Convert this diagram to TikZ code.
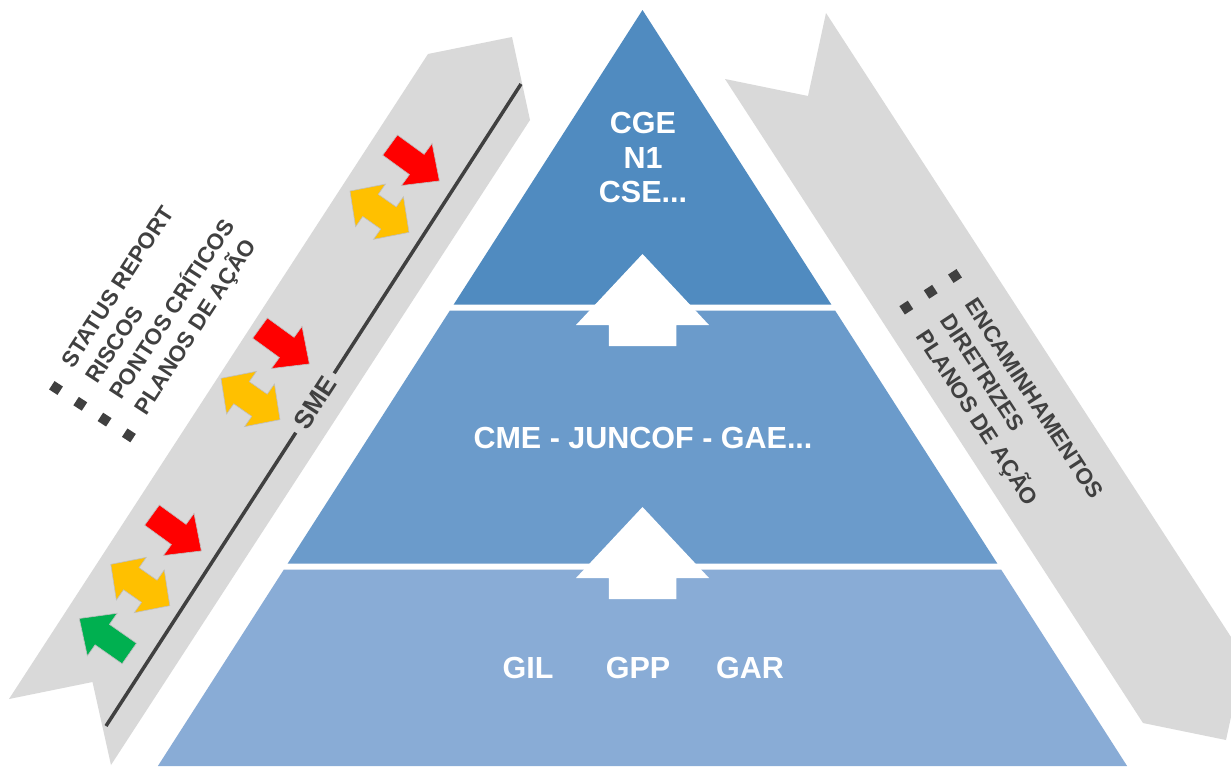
\documentclass[tikz,border=0pt]{standalone}
\usepackage{fontspec}
\setmainfont{Liberation Sans}
\definecolor{bandgray}{HTML}{D9D9D9}
\definecolor{tierA}{HTML}{508BC0}
\definecolor{tierB}{HTML}{6B9BCB}
\definecolor{tierC}{HTML}{89ACD6}
\definecolor{ink}{HTML}{404040}
\definecolor{ared}{HTML}{FF0000}
\definecolor{aorange}{HTML}{FFC000}
\definecolor{agreen}{HTML}{00B050}
\tikzset{
  band/.style={fill=bandgray, draw=none},
  uparrowshape/.style={fill=white, draw=none},
  tiertext/.style={text=white, font=\fontsize{30.5}{36}\selectfont\bfseries, inner sep=0pt, anchor=base},
  listtext/.style={text=ink, font=\fontsize{22.5}{27}\selectfont\bfseries, inner sep=0pt, anchor=base west},
  bulletsq/.style={fill=ink, minimum size=10pt, inner sep=0pt, draw=none},
  smelabel/.style={text=ink, font=\fontsize{26}{30}\selectfont\bfseries, inner xsep=7pt, inner ysep=2pt, rotate=57},
  smeline/.style={draw=ink, line width=3.5pt},
  blockarrow/.pic={\path[pic actions] (-30.5,-12.5) -- (2.5,-12.5) -- (2.5,-26) -- (30.5,0) -- (2.5,26) -- (2.5,12.5) -- (-30.5,12.5) -- cycle;},
  doublearrow/.pic={\path[pic actions] (-36,0) -- (-11,-26) -- (-11,-13.5) -- (11,-13.5) -- (11,-26) -- (36,0) -- (11,26) -- (11,13.5) -- (-11,13.5) -- (-11,26) -- cycle;},
  redfill/.style={fill=ared, draw=black!25, line width=0.6pt},
  orangefill/.style={fill=aorange, draw=black!25, line width=0.6pt},
  greenfill/.style={fill=agreen, draw=black!25, line width=0.6pt},
}
\begin{document}
\begin{tikzpicture}[x=1pt,y=-1pt]
\useasboundingbox (0,0) rectangle (1231,766);
\clip (0,0) rectangle (1231,766);
\fill[white] (0,0) rectangle (1231,766);

% side bands (chevrons)
\path[band] (9,699) -- (92.5,682) -- (111,765) -- (530,120) -- (512,37) -- (428,54) -- cycle;
\path[band] (725,79) -- (808,96) -- (826,13) -- (1244,657) -- (1226,740) -- (1143,723) -- cycle;

% pyramid tiers
\fill[tierA] (642.5,10) -- (831.3,304.5) -- (453.7,304.5) -- cycle;
\fill[tierB] (449.9,310.5) -- (835.1,310.5) -- (997.3,563.5) -- (287.7,563.5) -- cycle;
\fill[tierC] (283.9,569.5) -- (1001.1,569.5) -- (1127.1,766) -- (157.9,766) -- cycle;

% white up arrows
\path[uparrowshape] (642.5,254) -- (709,325) -- (676.25,325) -- (676.25,346) -- (608.75,346) -- (608.75,325) -- (576,325) -- cycle;
\path[uparrowshape] (642.5,507) -- (709,578) -- (676.25,578) -- (676.25,599) -- (608.75,599) -- (608.75,578) -- (576,578) -- cycle;

% tier texts
\node[tiertext] (cge) at (643,133) {CGE};
\node[tiertext] (n1) at (643,168) {N1};
\node[tiertext] (cse) at (643,202) {CSE...};
\node[tiertext] (cme) at (643,448) {CME - JUNCOF - GAE...};
\node[tiertext] (gil) at (528,678) {GIL};
\node[tiertext] (gpp) at (638,678) {GPP};
\node[tiertext] (gar) at (750,678) {GAR};

% SME line
\coordinate (lineTop) at (521,84);
\coordinate (lineBot) at (106,726);
\node[smelabel] (sme) at (315,403) {SME};
\draw[smeline] (lineBot) -- (sme);
\draw[smeline] (sme) -- (lineTop);

% coloured arrows, top group
\pic[redfill, rotate=-36] (redA) at (414.75,163) {blockarrow};
\pic[orangefill, rotate=-35] (orA) at (379.5,211.7) {doublearrow};
% middle group
\pic[redfill, rotate=-36] (redB) at (284.7,346) {blockarrow};
\pic[orangefill, rotate=-35] (orB) at (250.5,399) {doublearrow};
% bottom group
\pic[redfill, rotate=-36] (redC) at (176.7,533) {blockarrow};
\pic[orangefill, rotate=-35] (orC) at (140.3,585) {doublearrow};
\pic[greenfill, rotate=145] (grC) at (104.3,636) {blockarrow};

% left list
\node[bulletsq, rotate=57] (lb1) at (56,388) {};
\node[bulletsq, rotate=57] (lb2) at (80.3,403.8) {};
\node[bulletsq, rotate=57] (lb3) at (104.6,419.6) {};
\node[bulletsq, rotate=57] (lb4) at (128.9,435.4) {};
\node[listtext, rotate=57] (lt1) at (73,369.2) {STATUS REPORT};
\node[listtext, rotate=57] (lt2) at (97.3,385) {RISCOS};
\node[listtext, rotate=57] (lt3) at (121.6,400.8) {PONTOS CRÍTICOS};
\node[listtext, rotate=57] (lt4) at (145.9,416.6) {PLANOS DE AÇÃO};

% right list
\node[bulletsq, rotate=-57] (rb1) at (955,276) {};
\node[bulletsq, rotate=-57] (rb2) at (930.7,291.8) {};
\node[bulletsq, rotate=-57] (rb3) at (906.3,307.6) {};
\node[listtext, rotate=-57] (rt1) at (964.1,304.7) {ENCAMINHAMENTOS};
\node[listtext, rotate=-57] (rt2) at (939.8,320.5) {DIRETRIZES};
\node[listtext, rotate=-57] (rt3) at (915.4,336.3) {PLANOS DE AÇÃO};
\end{tikzpicture}
\end{document}
